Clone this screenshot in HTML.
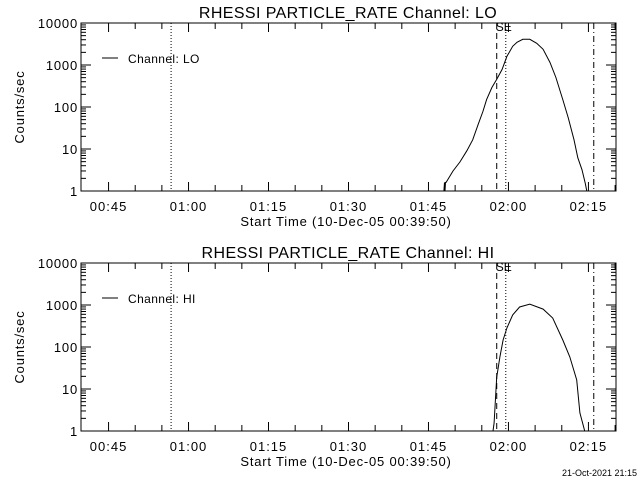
<!DOCTYPE html>
<html><head><meta charset="utf-8"><style>
html,body{margin:0;padding:0;background:#fff;}
svg{display:block;font-family:"Liberation Sans",sans-serif;}
</style></head><body>
<svg id="c" width="640" height="480" viewBox="0 0 640 480" xmlns="http://www.w3.org/2000/svg"></svg>
<script>
// ---- data ----
const loTimes = [107.9,108.0,108.1,108.2,108.3,109.6,110.9,112.2,113.3,114.3,115.2,115.9,116.9,117.8,118.8,119.7,120.8,121.6,122.7,124.0,125.3,126.5,127.8,128.9,130.2,131.2,132.3,133.0,133.8,134.4,134.7];
const loCounts = [1,1.6,1,1.6,1.6,3.0,4.9,9.1,16.6,38,78,150,291,453,785,1600,2790,3470,4100,4100,3290,2360,1150,505,150,56,16.6,6.2,3.2,1.55,1];
const hiTimes = [117.1,117.3,117.8,118.4,119.0,119.7,120.8,122.1,124.0,126.5,128.3,130.2,131.5,132.8,133.4,133.9,134.3];
const hiCounts = [1,1.55,19,58,147,283,580,895,1050,800,490,147,58,16.5,2.7,1.55,1];
const xTickLabels = ["00:45","01:00","01:15","01:30","01:45","02:00","02:15"];
const xTickMinutes = [45,60,75,90,105,120,135];
const yTickLabels = ["1","10","100","1000","10000"];
const yTickValues = [1,10,100,1000,10000];
const markerTimes = [56.73,117.8,119.5,136.0];
const markerStyles = ["1,2","6,4","1,2","6,3,1,3"];
const panelNames = ["LO","HI"];
// ---- layout ----
const X0=81,X1=616,T0=39.8333,T1=140.17;
const svg=document.getElementById('c');
const NS='http://www.w3.org/2000/svg';
function mk(tag,attrs,parent){const e=document.createElementNS(NS,tag);for(const k in attrs)e.setAttribute(k,attrs[k]);(parent||svg).appendChild(e);return e;}
function xs(t){return X0+(t-T0)/(T1-T0)*(X1-X0);}
function panel(idx,times,counts){
  const top=23+idx*240,bot=191+idx*240;
  const ys=v=>bot-(Math.log10(v))/4*(bot-top);
  const g=mk('g',{});
  
  
  const t=mk('text',{x:348,y:top-5,'font-size':16,'text-anchor':'middle',fill:'#000','letter-spacing':0.4},g);
  t.textContent='RHESSI PARTICLE_RATE Channel: '+panelNames[idx];
  
  
  const fr=mk('rect',{x:X0,y:top,width:X1-X0,height:bot-top,fill:'none',stroke:'#000','stroke-width':1},g);
  
  
  for(let m=45;m<=140;m+=5){
    const x=xs(m);const major=(m%15===0);const L=major?9:6;
    mk('line',{x1:x,y1:bot,x2:x,y2:bot-L,stroke:'#000'},g);
    mk('line',{x1:x,y1:top,x2:x,y2:top+L,stroke:'#000'},g);
  }
  xTickLabels.forEach((lab,i)=>{
    const tt=mk('text',{x:xs(xTickMinutes[i]),y:bot+20,'font-size':13,'text-anchor':'middle','letter-spacing':1},g);
    tt.textContent=lab;
    
    
  });
  for(let d=0;d<4;d++){
    for(let k=2;k<=9;k++){
      const y=ys(k*Math.pow(10,d));
      mk('line',{x1:X0,y1:y,x2:X0+5,y2:y,stroke:'#000'},g);
      mk('line',{x1:X1,y1:y,x2:X1-5,y2:y,stroke:'#000'},g);
    }
  }
  yTickValues.forEach((v,i)=>{
    const y=ys(v);
    mk('line',{x1:X0,y1:y,x2:X0+10,y2:y,stroke:'#000'},g);
    mk('line',{x1:X1,y1:y,x2:X1-10,y2:y,stroke:'#000'},g);
    const tt=mk('text',{x:X0-3,y:y+5,'font-size':13,'text-anchor':'end','letter-spacing':0.8},g);
    tt.textContent=yTickLabels[i];
    
    
  });
  const yl=mk('text',{x:0,y:0,'font-size':13,'text-anchor':'middle','letter-spacing':0.8,transform:`translate(24,${(top+bot)/2}) rotate(-90)`},g);
  yl.textContent='Counts/sec';
  
  
  const xl=mk('text',{x:346,y:bot+35,'font-size':13,'text-anchor':'middle','letter-spacing':0.8},g);
  xl.textContent='Start Time (10-Dec-05 00:39:50)';
  
  
  markerTimes.forEach((m,i)=>{
    const ln=mk('line',{x1:xs(m),y1:top,x2:xs(m),y2:bot,stroke:'#000','stroke-dasharray':markerStyles[i]},g);
    
    
  });
  const se=mk('text',{x:xs(markerTimes[1])-1,y:top+8,'font-size':12},g);
  se.textContent='SE';
  
  
  mk('line',{x1:102,y1:top+35,x2:118,y2:top+35,stroke:'#000'},g);
  const lg=mk('text',{x:128,y:top+40,'font-size':12,'letter-spacing':0.4},g);
  lg.textContent='Channel: '+panelNames[idx];
  
  
  const pts=times.map((tm,i)=>xs(tm).toFixed(1)+','+ys(counts[i]).toFixed(1)).join(' ');
  const pl=mk('polyline',{points:pts,fill:'none',stroke:'#000','stroke-width':1},g);
  
  
}
panel(0,loTimes,loCounts);
panel(1,hiTimes,hiCounts);
const ts=mk('text',{x:637,y:476,'font-size':9,'text-anchor':'end'});
ts.textContent='21-Oct-2021 21:15';


</script>
</body></html>
